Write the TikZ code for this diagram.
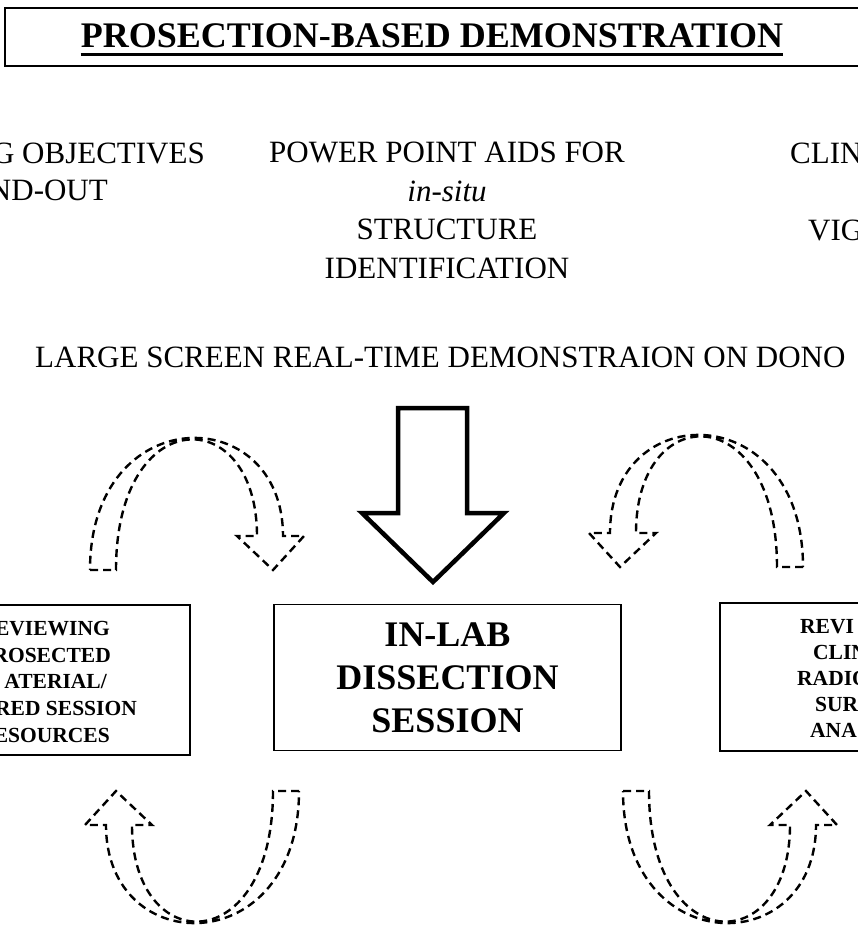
\documentclass[tikz,border=0pt]{standalone}
\usepackage{fontspec}
\setmainfont{Liberation Serif}

\tikzset{
    box/.style={draw, line width=1.5pt, inner sep=0pt},
    caption/.style={font=\fontsize{31}{38.5}\selectfont, inner sep=0pt},
    boxtext/.style={font=\fontsize{21.5}{26.7}\selectfont\bfseries, inner sep=0pt},
    dashline/.style={dash pattern=on 8pt off 5pt, line width=2.4pt},
    curvedarrow/.pic={
        \draw[dashline] (0,0) -- (26,0)
            .. controls (26,-168) and (167,-168) .. (167,-34)
            -- (147,-34) -- (183,0) -- (214,-34) -- (193,-34)
            .. controls (193,-170) and (0,-170) .. (0,0) -- cycle;
    }
}

\begin{document}
\begin{tikzpicture}[x=1pt, y=-1pt]
    \useasboundingbox (0,0) rectangle (858,931);
    \clip (0,0) rectangle (858,931);

    % title
    \draw[line width=2pt] (5,8) rectangle (900,66);
    \node[inner sep=0pt, anchor=base, font=\fontsize{36}{40}\selectfont\bfseries] (title) at (432,48) {PROSECTION-BASED DEMONSTRATION};
    \draw[line width=3pt] ([yshift=-7pt]title.base west) -- ([yshift=-7pt]title.base east);

    % resources row
    \node[caption, anchor=base east] (objectives) at (205,163) {G OBJECTIVES};
    \node[caption, anchor=base east] (handout) at (108,200) {ND-OUT};
    \node[caption, anchor=base, align=center] (aids) at (447,278) {POWER POINT AIDS FOR\\\textit{in-situ}\\STRUCTURE\\IDENTIFICATION};
    \node[caption, anchor=base west] (clin) at (790,163) {CLIN};
    \node[caption, anchor=base west] (vig) at (808,240) {VIG};
    \node[caption, anchor=base west] (screen) at (35,367) {LARGE SCREEN REAL-TIME DEMONSTRAION ON DONO};

    % main arrow
    \draw[line width=4.5pt, line join=miter] (398,408) -- (467,408) -- (467,513) -- (504,513)
        -- (433,582) -- (362,513) -- (398,513) -- cycle;

    % boxes
    \node[box, minimum width=286pt, minimum height=150pt] (review) at (47,680) {};
    \node[box, minimum width=347pt, minimum height=146pt, align=center,
          font=\fontsize{36}{43}\selectfont\bfseries] (lab) at (447.5,677.5) {IN-LAB\\DISSECTION\\SESSION};
    \node[box, minimum width=300pt, minimum height=148pt, anchor=north west] (clinical) at (719,602) {};

    \foreach \x/\y/\t in {110/635/EVIEWING, 111/662/ROSECTED, 107/688/{ATERIAL/},
                          137/715/RED SESSION, 110/742/ESOURCES}
        \node[boxtext, anchor=base east] at (\x,\y) {\t};
    \foreach \x/\y/\t in {800/633/REVI, 813/659/CLIN, 797/685/RADIO,
                          815/711/SUR, 810/737/ANA}
        \node[boxtext, anchor=base west] at (\x,\y) {\t};

    % dashed curved arrows
    \pic at (90,570) {curvedarrow};
    \pic[xscale=-1] at (803,567) {curvedarrow};
    \pic[rotate=180] at (299,791) {curvedarrow};
    \pic[yscale=-1] at (623,791) {curvedarrow};
\end{tikzpicture}
\end{document}
